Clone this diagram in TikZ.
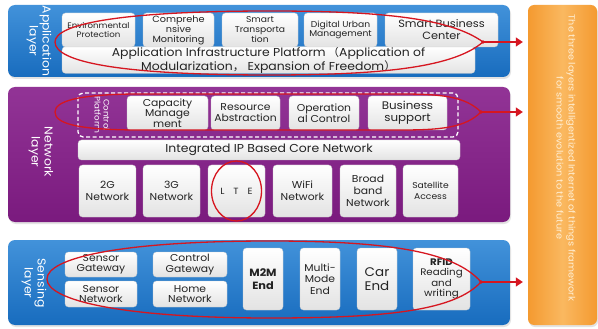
\documentclass[tikz,border=0pt]{standalone}
\usepackage{fontspec}
\setmainfont{Poppins}[FakeStretch=1.08]
\newfontfamily\cjkfont{Noto Sans CJK SC}
\usetikzlibrary{arrows.meta,shadows}

\definecolor{panelblue}{RGB}{24,108,190}
\definecolor{panelbluelt}{RGB}{66,146,218}
\definecolor{panelpurple}{RGB}{122,26,126}
\definecolor{panelpurplelt}{RGB}{146,52,150}
\definecolor{inkred}{RGB}{214,22,32}
\definecolor{barorange}{RGB}{244,154,48}
\definecolor{barorangelt}{RGB}{250,184,96}
\definecolor{bartext}{RGB}{255,238,210}
\definecolor{boxink}{RGB}{35,35,35}

% a node spanning the rectangle (x1,y1)-(x2,y2), in pixel units
\newcommand\ibox[7][]{%
  \node[#1,minimum width={(#5-#3)*1pt},minimum height={(#6-#4)*1pt}]
    (#2) at ({(#3+#5)/2},{(#4+#6)/2}) {#7};}

\tikzset{
  fs/.style 2 args={font=\fontsize{#1}{#2}\selectfont},
  softshadow/.style={drop shadow={opacity=0.22, shadow xshift=1pt, shadow yshift=-2pt}},
  bluepanel/.style={rounded corners=7pt, inner sep=0pt, softshadow,
    top color=panelbluelt, bottom color=panelblue},
  purplepanel/.style={rounded corners=7pt, inner sep=0pt, softshadow,
    top color=panelpurplelt, bottom color=panelpurple},
  cellbox/.style={rounded corners=3.5pt, inner sep=0pt, align=center,
    top color=white, bottom color=gray!22, draw=gray!40, line width=0.3pt,
    text=boxink},
  layerlabel/.style={rotate=-90, text=white, align=center, fs={11.5}{13}},
  ring/.style={draw=inkred, line width=1.3pt},
  flow/.style={draw=inkred, line width=1.4pt, shorten >=5pt,
    -{Triangle[length=7pt,width=9pt,fill=inkred]}},
  ctrlframe/.style={draw=white, dashed, line width=1.3pt,
    dash pattern=on 4pt off 2.5pt, rounded corners=5pt, inner sep=0pt},
}

\begin{document}
\begin{tikzpicture}[x=1pt,y=-1pt]
\useasboundingbox (0,0) rectangle (598,329);
\fill[white] (0,0) rectangle (598,329);

% ---------- application layer ----------
\ibox[bluepanel]{appl}{8}{5}{510}{77}{}
\node[layerlabel] (appllbl) at (39,41) {Application\\layer};
\ibox[cellbox,fs={11.5}{12}]{infra}{62}{48}{475}{72}{Application Infrastructure Platform\,{\cjkfont （}Application of\\Modularization{\cjkfont ，} Expansion of Freedom{\cjkfont ）}}
\ibox[cellbox,fs={8}{9}]{envp}{62}{13}{135}{47}{Environmental\\Protection}
\ibox[cellbox,fs={9}{10}]{comp}{143}{13}{214}{47}{Comprehe\\nsive\\Monitoring}
\ibox[cellbox,fs={8.5}{10}]{strn}{222}{13}{298}{47}{Smart\\Transporta\\tion}
\ibox[cellbox,fs={8.5}{9.5}]{dumg}{304}{13}{377}{47}{Digital Urban\\Management}
\ibox[cellbox,fs={10.5}{12}]{sbc}{385}{13}{498}{47}{Smart Business\\Center}

% ---------- network layer ----------
\ibox[purplepanel]{netw}{8}{87}{510}{222}{}
\node[layerlabel] (netwlbl) at (41,152) {Network\\layer};
\ibox[ctrlframe]{ctrl}{78}{93}{458}{137}{}
\node[rotate=-90, text=white, align=center, fs={8}{9}] (ctrllbl) at (102,115) {Control\\Platform};
\ibox[cellbox,fs={10}{10.5}]{capm}{127}{96}{208}{130}{Capacity\\Manage\\ment}
\ibox[cellbox,fs={10}{11}]{resa}{211}{96}{280}{130}{Resource\\Abstraction}
\ibox[cellbox,fs={10}{11}]{opct}{289}{96}{359}{130}{Operation\\al Control}
\ibox[cellbox,fs={11}{12}]{bsup}{368}{96}{447}{130}{Business\\support}
\ibox[cellbox,fs={11.5}{12}]{core}{78}{140}{460}{160}{Integrated IP Based Core Network}
\ibox[cellbox,fs={10}{12}]{net2g}{79}{165}{136}{217}{2G\\Network}
\ibox[cellbox,fs={10}{12}]{net3g}{143}{165}{200}{217}{3G\\Network}
\ibox[cellbox,fs={9}{10}]{lte}{208}{165}{265}{217}{L\hspace{1em}T\hspace{1em}E}
\ibox[cellbox,fs={10}{12}]{wifi}{273}{165}{332}{217}{WiFi\\Network}
\ibox[cellbox,fs={10}{12}]{bband}{340}{165}{396}{217}{Broad\\band\\Network}
\ibox[cellbox,fs={8.5}{11}]{satl}{403}{165}{458}{217}{Satellite\\Access}

% ---------- sensing layer ----------
\ibox[bluepanel]{sens}{8}{240}{510}{325}{}
\node[layerlabel] (senslbl) at (34,283) {Sensing\\layer};
\ibox[cellbox,fs={10}{10.5}]{sgw}{65}{252}{137}{277}{Sensor\\Gateway}
\ibox[cellbox,fs={10}{10.5}]{snet}{65}{281}{137}{307}{Sensor\\Network}
\ibox[cellbox,fs={10}{10.5}]{cgw}{153}{252}{227}{277}{Control\\Gateway}
\ibox[cellbox,fs={10}{10.5}]{hnet}{153}{281}{227}{307}{Home\\Network}
\ibox[cellbox,fs={10.5}{12.5}]{mtm}{243}{248}{283}{310}{\textbf{M2M}\\\textbf{End}}
\ibox[cellbox,fs={10}{11.5}]{mmode}{300}{248}{340}{310}{Multi-\\Mode\\End}
\ibox[cellbox,fs={12.5}{13.5}]{car}{357}{248}{397}{310}{Car\\End}
\ibox[cellbox,fs={9.5}{10.5}]{rfid}{413}{248}{470}{310}{\textbf{RFID}\\Reading\\and\\writing}

% ---------- summary bar ----------
\ibox[rounded corners=6pt, inner sep=0pt, softshadow, left color=barorange,
  right color=barorange, middle color=barorangelt]{bar}{528}{5}{597}{325}{}
\node[rotate=-90, align=center, text=bartext, fs={9}{12}] (bartxt) at (566,158)
  {The three layers intelligentized Internet of things framework\\for smooth evolution to the future};

% ---------- red highlights ----------
\coordinate (atip) at (483,42);
\coordinate (ntip) at (481,112);
\coordinate (stip) at (481,282);
\draw[ring] (atip) .. controls (450,18) and (380,11) .. (270,11)
  .. controls (120,11) and (55,24) .. (55,42)
  .. controls (55,62) and (120,75) .. (270,75)
  .. controls (390,75) and (455,66) .. (atip);
\draw[ring] (ntip) .. controls (465,96) and (440,94) .. (400,94) -- (140,94)
  .. controls (75,94) and (55,102) .. (55,112)
  .. controls (55,123) and (75,130) .. (140,130) -- (400,130)
  .. controls (440,130) and (465,128) .. (ntip);
\draw[ring] (stip) .. controls (455,252) and (390,241) .. (270,241)
  .. controls (120,241) and (47,258) .. (47,279)
  .. controls (47,300) and (120,318) .. (270,318)
  .. controls (390,318) and (455,310) .. (stip);
\draw[ring] (lte.center) ellipse (25 and 30);
\foreach \t in {atip,ntip,stip}{
  \fill[inkred] (\t) circle (1.8);
  \draw[flow] (\t) -- (\t -| bar.west);
}
\end{tikzpicture}
\end{document}
